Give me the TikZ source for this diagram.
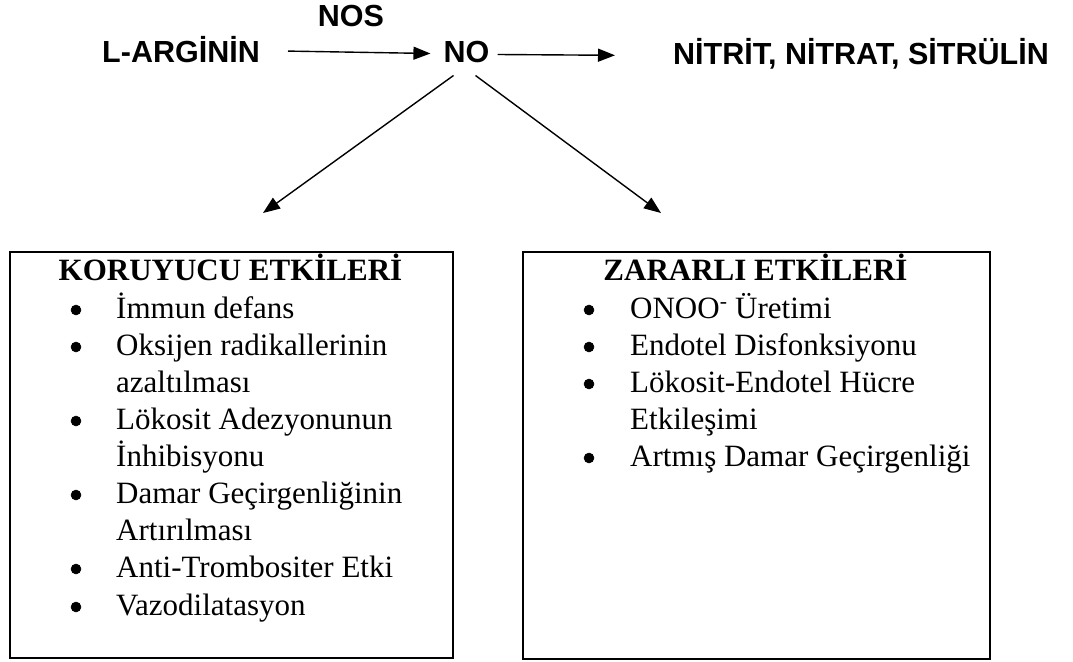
\documentclass[tikz,border=0pt]{standalone}
\usepackage{fontspec}
\setmainfont{Liberation Serif}
\newfontfamily\arialfont{Liberation Sans}
\usetikzlibrary{arrows.meta}
\tikzset{
  toptext/.style={font=\arialfont\bfseries\fontsize{30.5}{36}\selectfont, inner sep=0pt},
  titletext/.style={font=\bfseries\fontsize{31}{37}\selectfont, inner sep=0pt, anchor=base},
  itemtext/.style={font=\fontsize{31}{37}\selectfont, inner sep=0pt, anchor=base west},
  bul/.style={circle, draw=black, fill=black, line width=0.5pt, inner sep=0pt, minimum size=10pt},
  effbox/.style={draw, line width=1.5pt},
  arr/.style={line width=1.4pt, -{Triangle[length=17pt,width=13pt]}},
}
\begin{document}
\begin{tikzpicture}[x=1pt,y=-1pt]
\useasboundingbox (0,0) rectangle (1073,661);
% top row
\node[toptext, anchor=base east] (larg) at (260,63) {L-ARGİNİN};
\node[toptext, anchor=base] (nos) at (351,27) {NOS};
\node[toptext, anchor=base] (no) at (466.5,63) {NO};
\node[toptext, anchor=base west] (nitrit) at (673,64) {NİTRİT, NİTRAT, SİTRÜLİN};
\draw[arr] ([xshift=28pt,yshift=-1pt]larg.east) -- ([xshift=-13pt,yshift=-1pt]no.west);
\draw[arr] ([xshift=8pt,yshift=-2pt]no.east) -- ([xshift=-58pt,yshift=-2pt]nitrit.west);
% boxes
\node[effbox, minimum width=443pt, minimum height=406pt, inner sep=0pt, anchor=north west] (kbox) at (9,251) {};
\node[effbox, minimum width=467pt, minimum height=407pt, inner sep=0pt, anchor=north west] (zbox) at (522,251) {};
\coordinate (tipL) at (263,213);
\coordinate (tipR) at (661,213);
\draw[arr] ([xshift=-13pt,yshift=-12pt]no.south) -- (tipL);
\draw[arr] ([xshift=9pt,yshift=-12pt]no.south) -- (tipR);
% left box content
\node[titletext] (ktitle) at (230.5,280) {KORUYUCU ETKİLERİ};
\node[bul] (kb1) at (76,310) {};
\node[itemtext] (k1) at (116,318) {İmmun defans};
\node[bul] (kb2) at (76,347) {};
\node[itemtext] (k2a) at (116,355) {Oksijen radikallerinin};
\node[itemtext] (k2b) at (116,392) {azaltılması};
\node[bul] (kb3) at (76,421) {};
\node[itemtext] (k3a) at (116,429) {Lökosit Adezyonunun};
\node[itemtext] (k3b) at (116,466) {İnhibisyonu};
\node[bul] (kb4) at (76,495) {};
\node[itemtext] (k4a) at (116,503) {Damar Geçirgenliğinin};
\node[itemtext] (k4b) at (116,540) {Artırılması};
\node[bul] (kb5) at (76,569) {};
\node[itemtext] (k5) at (116,577) {Anti-Trombositer Etki};
\node[bul] (kb6) at (76,607) {};
\node[itemtext] (k6) at (116,615) {Vazodilatasyon};
% right box content
\node[titletext] (ztitle) at (755.5,280) {ZARARLI ETKİLERİ};
\node[bul] (zb1) at (589,310) {};
\node[itemtext] (z1) at (630,318) {ONOO\textsuperscript{-} Üretimi};
\node[bul] (zb2) at (589,347) {};
\node[itemtext] (z2) at (630,355) {Endotel Disfonksiyonu};
\node[bul] (zb3) at (589,384) {};
\node[itemtext] (z3a) at (630,392) {Lökosit-Endotel Hücre};
\node[itemtext] (z3b) at (630,429) {Etkileşimi};
\node[bul] (zb4) at (589,458) {};
\node[itemtext] (z4) at (630,466) {Artmış Damar Geçirgenliği};
\end{tikzpicture}
\end{document}
